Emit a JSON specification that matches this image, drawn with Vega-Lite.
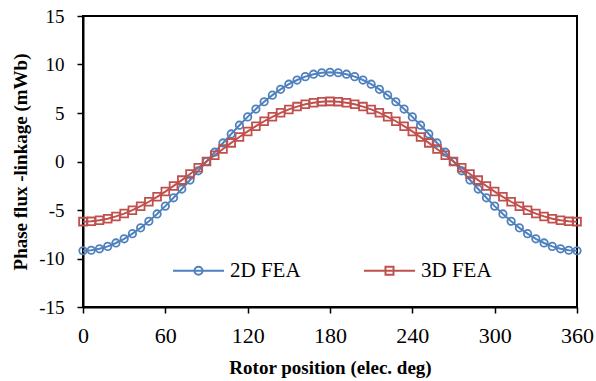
{
  "$schema": "https://vega.github.io/schema/vega-lite/v6.json",
  "autosize": {"type": "none"},
  "padding": {"left": 83, "top": 16, "right": 19, "bottom": 74},
  "width": 494,
  "height": 291,
  "config": {
    "font": "Liberation Serif, Times New Roman, serif",
    "view": {"stroke": "black", "strokeWidth": 2},
    "axis": {
      "grid": false,
      "domainColor": "black",
      "domainWidth": 2,
      "tickColor": "black",
      "tickWidth": 1.5,
      "tickSize": 6,
      "labelFlush": false,
      "labelOverlap": false,
      "labelFont": "Liberation Serif, Times New Roman, serif",
      "labelColor": "black",
      "labelExpr": "toString(datum.value)",
      "titleFont": "Liberation Serif, Times New Roman, serif",
      "titleFontSize": 19,
      "titleFontWeight": "bold",
      "titleColor": "black"
    }
  },
  "data": {
    "values": [
      {"deg":0,"series":"2D FEA","flux":-9.20},{"deg":6,"series":"2D FEA","flux":-9.15},{"deg":12,"series":"2D FEA","flux":-9.00},{"deg":18,"series":"2D FEA","flux":-8.75},{"deg":24,"series":"2D FEA","flux":-8.40},{"deg":30,"series":"2D FEA","flux":-7.97},{"deg":36,"series":"2D FEA","flux":-7.44},{"deg":42,"series":"2D FEA","flux":-6.84},{"deg":48,"series":"2D FEA","flux":-6.16},{"deg":54,"series":"2D FEA","flux":-5.41},{"deg":60,"series":"2D FEA","flux":-4.60},{"deg":66,"series":"2D FEA","flux":-3.74},{"deg":72,"series":"2D FEA","flux":-2.84},{"deg":78,"series":"2D FEA","flux":-1.91},{"deg":84,"series":"2D FEA","flux":-0.96},{"deg":90,"series":"2D FEA","flux":0.00},{"deg":96,"series":"2D FEA","flux":0.96},{"deg":102,"series":"2D FEA","flux":1.91},{"deg":108,"series":"2D FEA","flux":2.84},{"deg":114,"series":"2D FEA","flux":3.74},{"deg":120,"series":"2D FEA","flux":4.60},{"deg":126,"series":"2D FEA","flux":5.41},{"deg":132,"series":"2D FEA","flux":6.16},{"deg":138,"series":"2D FEA","flux":6.84},{"deg":144,"series":"2D FEA","flux":7.44},{"deg":150,"series":"2D FEA","flux":7.97},{"deg":156,"series":"2D FEA","flux":8.40},{"deg":162,"series":"2D FEA","flux":8.75},{"deg":168,"series":"2D FEA","flux":9.00},{"deg":174,"series":"2D FEA","flux":9.15},{"deg":180,"series":"2D FEA","flux":9.20},{"deg":186,"series":"2D FEA","flux":9.15},{"deg":192,"series":"2D FEA","flux":9.00},{"deg":198,"series":"2D FEA","flux":8.75},{"deg":204,"series":"2D FEA","flux":8.40},{"deg":210,"series":"2D FEA","flux":7.97},{"deg":216,"series":"2D FEA","flux":7.44},{"deg":222,"series":"2D FEA","flux":6.84},{"deg":228,"series":"2D FEA","flux":6.16},{"deg":234,"series":"2D FEA","flux":5.41},{"deg":240,"series":"2D FEA","flux":4.60},{"deg":246,"series":"2D FEA","flux":3.74},{"deg":252,"series":"2D FEA","flux":2.84},{"deg":258,"series":"2D FEA","flux":1.91},{"deg":264,"series":"2D FEA","flux":0.96},{"deg":270,"series":"2D FEA","flux":0.00},{"deg":276,"series":"2D FEA","flux":-0.96},{"deg":282,"series":"2D FEA","flux":-1.91},{"deg":288,"series":"2D FEA","flux":-2.84},{"deg":294,"series":"2D FEA","flux":-3.74},{"deg":300,"series":"2D FEA","flux":-4.60},{"deg":306,"series":"2D FEA","flux":-5.41},{"deg":312,"series":"2D FEA","flux":-6.16},{"deg":318,"series":"2D FEA","flux":-6.84},{"deg":324,"series":"2D FEA","flux":-7.44},{"deg":330,"series":"2D FEA","flux":-7.97},{"deg":336,"series":"2D FEA","flux":-8.40},{"deg":342,"series":"2D FEA","flux":-8.75},{"deg":348,"series":"2D FEA","flux":-9.00},{"deg":354,"series":"2D FEA","flux":-9.15},{"deg":360,"series":"2D FEA","flux":-9.20},
      {"deg":0,"series":"3D FEA","flux":-6.20},{"deg":6,"series":"3D FEA","flux":-6.17},{"deg":12,"series":"3D FEA","flux":-6.06},{"deg":18,"series":"3D FEA","flux":-5.90},{"deg":24,"series":"3D FEA","flux":-5.66},{"deg":30,"series":"3D FEA","flux":-5.37},{"deg":36,"series":"3D FEA","flux":-5.02},{"deg":42,"series":"3D FEA","flux":-4.61},{"deg":48,"series":"3D FEA","flux":-4.15},{"deg":54,"series":"3D FEA","flux":-3.64},{"deg":60,"series":"3D FEA","flux":-3.10},{"deg":66,"series":"3D FEA","flux":-2.52},{"deg":72,"series":"3D FEA","flux":-1.92},{"deg":78,"series":"3D FEA","flux":-1.29},{"deg":84,"series":"3D FEA","flux":-0.65},{"deg":90,"series":"3D FEA","flux":0.00},{"deg":96,"series":"3D FEA","flux":0.65},{"deg":102,"series":"3D FEA","flux":1.29},{"deg":108,"series":"3D FEA","flux":1.92},{"deg":114,"series":"3D FEA","flux":2.52},{"deg":120,"series":"3D FEA","flux":3.10},{"deg":126,"series":"3D FEA","flux":3.64},{"deg":132,"series":"3D FEA","flux":4.15},{"deg":138,"series":"3D FEA","flux":4.61},{"deg":144,"series":"3D FEA","flux":5.02},{"deg":150,"series":"3D FEA","flux":5.37},{"deg":156,"series":"3D FEA","flux":5.66},{"deg":162,"series":"3D FEA","flux":5.90},{"deg":168,"series":"3D FEA","flux":6.06},{"deg":174,"series":"3D FEA","flux":6.17},{"deg":180,"series":"3D FEA","flux":6.20},{"deg":186,"series":"3D FEA","flux":6.17},{"deg":192,"series":"3D FEA","flux":6.06},{"deg":198,"series":"3D FEA","flux":5.90},{"deg":204,"series":"3D FEA","flux":5.66},{"deg":210,"series":"3D FEA","flux":5.37},{"deg":216,"series":"3D FEA","flux":5.02},{"deg":222,"series":"3D FEA","flux":4.61},{"deg":228,"series":"3D FEA","flux":4.15},{"deg":234,"series":"3D FEA","flux":3.64},{"deg":240,"series":"3D FEA","flux":3.10},{"deg":246,"series":"3D FEA","flux":2.52},{"deg":252,"series":"3D FEA","flux":1.92},{"deg":258,"series":"3D FEA","flux":1.29},{"deg":264,"series":"3D FEA","flux":0.65},{"deg":270,"series":"3D FEA","flux":0.00},{"deg":276,"series":"3D FEA","flux":-0.65},{"deg":282,"series":"3D FEA","flux":-1.29},{"deg":288,"series":"3D FEA","flux":-1.92},{"deg":294,"series":"3D FEA","flux":-2.52},{"deg":300,"series":"3D FEA","flux":-3.10},{"deg":306,"series":"3D FEA","flux":-3.64},{"deg":312,"series":"3D FEA","flux":-4.15},{"deg":318,"series":"3D FEA","flux":-4.61},{"deg":324,"series":"3D FEA","flux":-5.02},{"deg":330,"series":"3D FEA","flux":-5.37},{"deg":336,"series":"3D FEA","flux":-5.66},{"deg":342,"series":"3D FEA","flux":-5.90},{"deg":348,"series":"3D FEA","flux":-6.06},{"deg":354,"series":"3D FEA","flux":-6.17},{"deg":360,"series":"3D FEA","flux":-6.20}
    ]
  },
  "encoding": {
    "x": {
      "field": "deg", "type": "quantitative",
      "scale": {"domain": [0, 360], "nice": false},
      "axis": {"values": [0, 60, 120, 180, 240, 300, 360], "title": "Rotor position (elec. deg)", "labelFontSize": 22, "labelPadding": 12, "titlePadding": 12}
    },
    "y": {
      "field": "flux", "type": "quantitative",
      "scale": {"domain": [-15, 15], "nice": false},
      "axis": {"values": [-15, -10, -5, 0, 5, 10, 15], "title": "Phase flux -linkage (mWb)", "labelFontSize": 19, "labelPadding": 13, "titlePadding": 8}
    },
    "color": {
      "field": "series", "type": "nominal",
      "scale": {"domain": ["2D FEA", "3D FEA"], "range": ["#4F81BD", "#C0504D"]},
      "legend": {
        "title": null,
        "orient": "none",
        "legendX": 89,
        "legendY": 228,
        "direction": "horizontal",
        "labelFont": "Liberation Serif, Times New Roman, serif",
        "labelFontSize": 21,
        "labelColor": "black",
        "labelOffset": 5,
        "columnPadding": 59,
        "symbolSize": 2601,
        "symbolStrokeWidth": 2,
        "symbolType": "M-1,0H1M-0.157,0A0.157,0.157,0,1,1,0.157,0A0.157,0.157,0,1,1,-0.157,0Z",
        "encode": {
          "symbols": {
            "update": {
              "shape": {"signal": "datum.value === '2D FEA' ? 'M-1,0H1M-0.157,0A0.157,0.157,0,1,1,0.157,0A0.157,0.157,0,1,1,-0.157,0Z' : 'M-1,0H1M-0.157,-0.157H0.157V0.157H-0.157Z'"},
              "fill": {"value": "white"},
              "strokeWidth": {"value": 2}
            }
          }
        }
      }
    }
  },
  "layer": [
    {
      "mark": {"type": "line", "strokeWidth": 2}
    },
    {
      "transform": [{"filter": "datum.series === '2D FEA'"}],
      "mark": {"type": "point", "shape": "circle", "filled": false, "strokeWidth": 1.8, "opacity": 1, "size": 55}
    },
    {
      "transform": [{"filter": "datum.series === '3D FEA'"}],
      "mark": {"type": "point", "shape": "square", "filled": false, "strokeWidth": 1.8, "opacity": 1, "size": 60}
    }
  ]
}
